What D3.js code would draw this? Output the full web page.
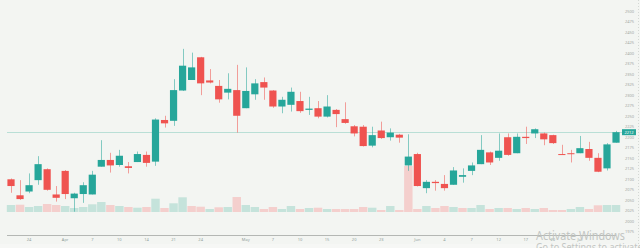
<!DOCTYPE html>
<html>
<head>
<meta charset="utf-8">
<script src="https://cdn.jsdelivr.net/npm/d3@7"></script>
<style>
  html, body { margin: 0; padding: 0; background: #f6f7f5; }
  svg { display: block; font-family: "Noto Sans", sans-serif; }
</style>
</head>
<body>
<svg id="chart" width="640" height="248"></svg>
<script>
// daily candles, oldest first
const opens = [2100, 2062, 2071, 2098, 2124, 2064, 2120, 2055, 2065, 2064, 2130, 2146, 2134, 2131, 2141, 2158, 2142, 2241, 2239, 2311,
  2336, 2390, 2335, 2322, 2306, 2312, 2269, 2302, 2331, 2311, 2273, 2277, 2286, 2265, 2269, 2249, 2265, 2243, 2226, 2225,
  2180, 2216, 2200, 2206, 2133, 2160, 2079, 2094, 2089, 2087, 2106, 2120, 2136, 2164, 2151, 2200, 2162, 2201, 2209, 2209,
  2205, 2160, 2162, 2162, 2172, 2151, 2126, 2187];
const highs = [2102, 2098, 2114, 2155, 2126, 2084, 2122, 2068, 2093, 2120, 2193, 2163, 2170, 2141, 2166, 2166, 2245, 2251, 2338, 2410,
  2401, 2391, 2362, 2336, 2352, 2372, 2366, 2338, 2342, 2312, 2296, 2318, 2308, 2296, 2286, 2300, 2267, 2283, 2229, 2229,
  2225, 2237, 2221, 2208, 2207, 2163, 2098, 2098, 2110, 2129, 2126, 2140, 2205, 2166, 2209, 2209, 2209, 2225, 2221, 2211,
  2206, 2182, 2170, 2203, 2189, 2162, 2186, 2215];
const lows = [2068, 2051, 2067, 2087, 2073, 2047, 2053, 2023, 2044, 2064, 2130, 2116, 2130, 2114, 2141, 2130, 2132, 2223, 2227, 2310,
  2336, 2300, 2328, 2282, 2290, 2211, 2269, 2289, 2289, 2270, 2257, 2261, 2258, 2253, 2245, 2247, 2224, 2232, 2202, 2178,
  2176, 2196, 2192, 2187, 2120, 2083, 2067, 2073, 2073, 2087, 2092, 2110, 2136, 2134, 2144, 2156, 2162, 2184, 2198, 2181,
  2184, 2158, 2140, 2162, 2144, 2117, 2121, 2187];
const closes = [2084, 2053, 2086, 2136, 2075, 2056, 2065, 2066, 2086, 2111, 2146, 2133, 2156, 2127, 2160, 2139, 2242, 2233, 2312, 2370,
  2366, 2328, 2330, 2290, 2315, 2251, 2310, 2328, 2318, 2273, 2289, 2308, 2262, 2268, 2249, 2273, 2255, 2234, 2209, 2179,
  2205, 2198, 2211, 2199, 2154, 2084, 2094, 2091, 2079, 2121, 2110, 2133, 2170, 2140, 2168, 2158, 2201, 2198, 2219, 2195,
  2186, 2158, 2160, 2174, 2151, 2118, 2183, 2212];
const volumes = [70, 73, 50, 60, 80, 70, 60, 40, 50, 77, 100, 70, 60, 50, 43, 50, 133, 40, 87, 147,
  60, 53, 30, 47, 50, 150, 70, 50, 30, 50, 30, 60, 30, 40, 43, 30, 30, 30, 30, 50,
  43, 20, 60, 20, 460, 30, 60, 40, 60, 50, 40, 40, 70, 30, 40, 40, 30, 40, 30, 40,
  20, 20, 30, 50, 30, 67, 70, 70];

const tickIndex = [2, 6, 9, 12, 15, 18, 21, 26, 29, 32, 35, 38, 41, 45, 48, 51, 54, 57, 60, 63];
const tickLabels = ["24", "Apr", "7", "10", "14", "21", "24", "May", "7", "10", "15", "20", "23", "Jun", "4", "7", "12", "17", "20", "Jul"];
const priceTicks = d3.range(1975, 2501, 25);

const up = '#26a69a', down = '#ef5350';
const upVol = '#c5e3db', downVol = '#f4cfcd';

const data = opens.map((o, i) => ({
  i, open: o, high: highs[i], low: lows[i], close: closes[i], volume: volumes[i],
  volUp: i === 0 || closes[i] >= closes[i - 1]
}));

const svg = d3.select('#chart');

svg.append('rect').attr('x', 0).attr('y', 0).attr('width', 640).attr('height', 244).attr('fill', '#f3f5f2');

const x = d3.scaleBand().domain(d3.range(data.length)).range([6.5, 6.5 + data.length * 9.03]);
const y = d3.scaleLinear().domain([1975, 2500]).range([231.9, 11]);
const yVol = d3.scaleLinear().domain([0, 600]).range([212, 152]);
const cx = i => x(i) + x.bandwidth() / 2;

// volume
svg.append('g').selectAll('rect')
  .data(data)
  .join('rect')
  .attr('x', d => x(d.i) + 0.3)
  .attr('width', x.bandwidth() - 0.6)
  .attr('y', d => yVol(d.volume))
  .attr('height', d => yVol(0) - yVol(d.volume))
  .attr('fill', d => d.volUp ? upVol : downVol);

// last price line
const last = data[data.length - 1];
svg.append('line')
  .attr('x1', 7).attr('x2', 622)
  .attr('y1', Math.round(y(last.close)) + 0.5).attr('y2', Math.round(y(last.close)) + 0.5)
  .attr('stroke', '#b9dfd6').attr('stroke-width', 1);

// candles
const candles = svg.append('g').selectAll('g')
  .data(data)
  .join('g');

candles.append('line')
  .attr('x1', d => Math.round(cx(d.i)) + 0.5).attr('x2', d => Math.round(cx(d.i)) + 0.5)
  .attr('y1', d => y(d.high)).attr('y2', d => y(d.low))
  .attr('stroke', d => d.close >= d.open ? up : down)
  .attr('stroke-opacity', 0.55)
  .attr('stroke-width', 1);

candles.append('rect')
  .attr('x', d => cx(d.i) - 3.6)
  .attr('width', 7.2)
  .attr('y', d => y(Math.max(d.open, d.close)))
  .attr('height', d => Math.max(1, Math.abs(y(d.open) - y(d.close))))
  .attr('fill', d => d.close >= d.open ? up : down);

// price axis on the right
svg.append('line')
  .attr('x1', 638.5).attr('x2', 638.5).attr('y1', 0).attr('y2', 244)
  .attr('stroke', '#d4d8d4').attr('stroke-dasharray', '1,2');

svg.append('g').selectAll('text')
  .data(priceTicks)
  .join('text')
  .attr('x', 629.5)
  .attr('y', d => y(d) + 1.5)
  .attr('text-anchor', 'middle')
  .attr('font-size', 4)
  .attr('fill', '#a3a6a3')
  .text(d => d);

svg.append('rect')
  .attr('x', 622).attr('y', y(last.close) - 3)
  .attr('width', 14).attr('height', 6)
  .attr('fill', up);
svg.append('text')
  .attr('x', 629).attr('y', y(last.close) + 1.5)
  .attr('text-anchor', 'middle')
  .attr('font-size', 4)
  .attr('fill', '#fff')
  .text(last.close);

// time axis
svg.append('line')
  .attr('x1', 7).attr('x2', 616).attr('y1', 235.5).attr('y2', 235.5)
  .attr('stroke', '#b4b7b4').attr('stroke-width', 1);

svg.append('g').selectAll('text')
  .data(tickIndex)
  .join('text')
  .attr('x', d => cx(d))
  .attr('y', 241)
  .attr('text-anchor', 'middle')
  .attr('font-size', 4)
  .attr('fill', '#8fa09a')
  .text((d, k) => tickLabels[k]);

// windows watermark
svg.append('text')
  .attr('x', 536).attr('y', 239.5)
  .attr('font-size', 12.5)
  .attr('textLength', 89)
  .attr('lengthAdjust', 'spacingAndGlyphs')
  .attr('fill', '#c2c5c2')
  .text('Activate Windows');
svg.append('text')
  .attr('x', 536).attr('y', 251)
  .attr('font-size', 10)
  .attr('textLength', 150)
  .attr('lengthAdjust', 'spacingAndGlyphs')
  .attr('fill', '#c2c5c2')
  .text('Go to Settings to activate Windows.');
</script>
</body>
</html>
